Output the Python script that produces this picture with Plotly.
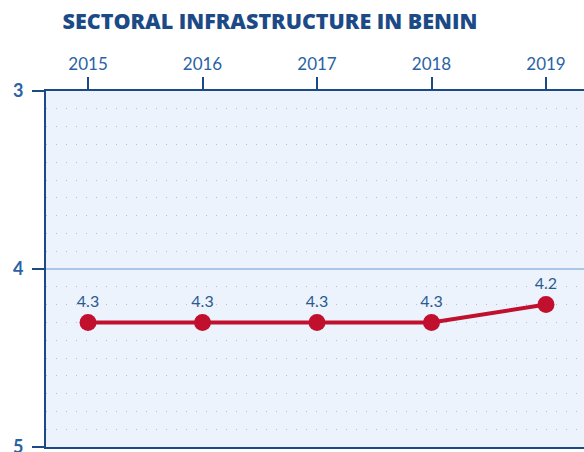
import plotly.graph_objects as go

years = [2015, 2016, 2017, 2018, 2019]
values = [4.3, 4.3, 4.3, 4.3, 4.2]
labels = ["4.3", "4.3", "4.3", "4.3", "4.2"]
title = "SECTORAL INFRASTRUCTURE IN BENIN"

navy = "#1b4a86"
tickblue = "#2a62a4"
crimson = "#c0102e"

fig = go.Figure()
fig.add_trace(go.Scatter(
    x=years, y=values, text=labels,
    mode="lines+markers+text",
    textposition="top center",
    textfont=dict(family="Lato", size=16, color="#2a5a92"),
    line=dict(color=crimson, width=4),
    marker=dict(color=crimson, size=17),
    cliponaxis=False,
    showlegend=False,
))

H = 470
fig.update_layout(
    width=584, height=H,
    margin=dict(l=46, r=0, t=91, b=23),
    paper_bgcolor="white",
    plot_bgcolor="#edf3fc",
    title=dict(text=title, x=270 / 584, xanchor="center", y=1 - 21 / H, yref="container", yanchor="middle",
               font=dict(family="Open Sans", size=21.5, color=navy, weight=800)),
    xaxis=dict(
        side="top", range=[2014.633, 2019.332], automargin=False,
        tickvals=years, ticktext=[str(y) for y in years],
        ticks="outside", ticklen=12, tickwidth=2, tickcolor=navy,
        tickfont=dict(family="Lato", size=17, color=tickblue),
        showgrid=False, zeroline=False,
        showline=True, linecolor=navy, linewidth=2, mirror=True,
    ),
    yaxis=dict(
        range=[5, 3], tickvals=[3, 4, 5], automargin=False,
        ticks="outside", ticklen=12, tickwidth=2, tickcolor=navy,
        ticklabelstandoff=5, ticklabeloverflow="allow",
        tickfont=dict(family="Lato", size=18, color=tickblue, weight="bold"),
        showgrid=True, gridcolor="#a9c8e8", gridwidth=2,
        zeroline=False,
        showline=True, linecolor=navy, linewidth=2,
        minor=dict(dtick=0.1, showgrid=True, gridcolor="#b4c0d0", gridwidth=1, griddash="1px,9px"),
    ),
)

fig.write_html("out.html", config={"displayModeBar": False},
               post_script="document.body.style.margin='0';")
